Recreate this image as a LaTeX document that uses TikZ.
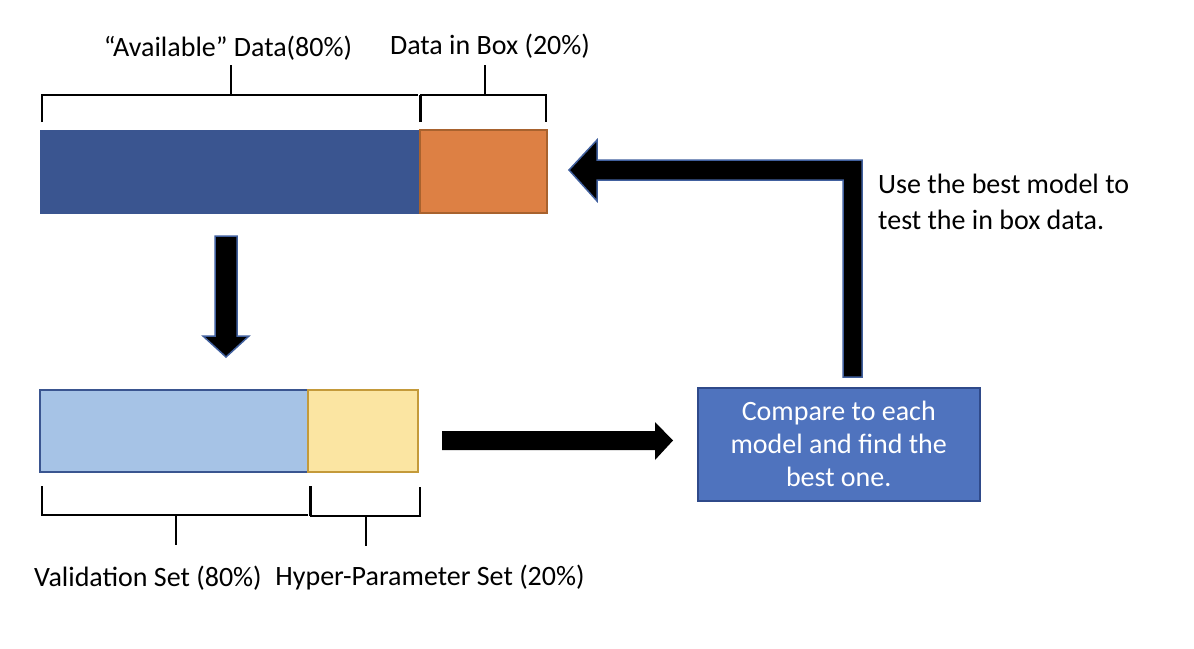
\documentclass[tikz,border=0pt]{standalone}
\usepackage{fontspec}
\setmainfont{Carlito}
\definecolor{darkbar}{HTML}{3A5590}
\definecolor{orangebar}{HTML}{DD8044}
\definecolor{orangeedge}{HTML}{A8622E}
\definecolor{lightbar}{HTML}{A6C3E6}
\definecolor{yellowbar}{HTML}{FBE5A2}
\definecolor{yellowedge}{HTML}{C49A3A}
\definecolor{boxfill}{HTML}{4F73BE}
\definecolor{boxedge}{HTML}{2F4A8A}
\definecolor{arrowedge}{HTML}{41609E}
\tikzset{
  seg/.style={inner sep=0pt, outer sep=0pt, minimum height=83pt, anchor=north west},
  brace/.style={line width=1.3pt, black},
  divide/.style={line width=3pt, black},
  lbl/.style={font=\fontsize{28}{34}\selectfont, inner sep=0pt},
  blockarrow/.style={fill=black, draw=arrowedge, line width=1.5pt, line join=miter},
}
\begin{document}
\begin{tikzpicture}[x=1pt,y=-1pt]
\useasboundingbox (0,0) rectangle (1194,648);
% top bar
\node[seg, fill=darkbar, draw=darkbar, minimum width=380pt] (avail) at (40,130) {};
\node[seg, fill=orangebar, draw=orangeedge, line width=1.5pt, minimum width=127pt] (inbox) at (420,130) {};
% top brackets
\draw[brace] (42,122) -- (42,95) -- (418,95);
\draw[brace] (231,95) -- (231,65);
\draw[divide] (420,122) -- (420,95);
\draw[brace] (420,95) -- (546,95) -- (546,122);
\draw[brace] (485,95) -- (485,65);
\node[lbl] (availlbl) at (228,48) {“Available” Data(80\%)};
\node[lbl] (inboxlbl) at (490,46) {Data in Box (20\%)};
% down arrow
\draw[blockarrow] (215,236) -- (237,236) -- (237,336) -- (249,336) -- (226,357) -- (203,336) -- (215,336) -- cycle;
% bottom bar
\node[seg, fill=lightbar, draw=darkbar, line width=1.2pt, minimum width=268pt, minimum height=82pt] (valid) at (40,390) {};
\node[seg, fill=yellowbar, draw=yellowedge, line width=1.2pt, minimum width=110pt, minimum height=82pt] (hyper) at (308,390) {};
% bottom brackets
\draw[brace] (42,486) -- (42,515) -- (308,515);
\draw[brace] (176,515) -- (176,545);
\draw[divide] (310,486) -- (310,516);
\draw[brace] (310,516) -- (420,516) -- (420,487);
\draw[brace] (366,516) -- (366,546);
\node[lbl] (validlbl) at (148,578) {Validation Set (80\%)};
\node[lbl] (hyperlbl) at (430,578) {Hyper-Parameter Set (20\%)};
% right arrow
\fill[black] (442,431) -- (655,431) -- (655,422) -- (673,440.5) -- (655,460) -- (655,450) -- (442,450) -- cycle;
% compare box
\node[fill=boxfill, draw=boxedge, line width=1.5pt, minimum width=282pt, minimum height=113pt, inner sep=0pt, anchor=north west,
      text=white, align=center, font=\fontsize{28}{33}\selectfont] (compare) at (697,387)
      {Compare to each\\model and find the\\best one.};
% L arrow
\draw[blockarrow] (843,377) -- (843,180) -- (597,180) -- (597,201) -- (569,170) -- (597,140) -- (597,160) -- (862,160) -- (862,377) -- cycle;
\node[lbl, anchor=north west, align=left, font=\fontsize{28}{36}\selectfont] (note) at (878,174)
      {Use the best model to\\test the in box data.};
\end{tikzpicture}
\end{document}
